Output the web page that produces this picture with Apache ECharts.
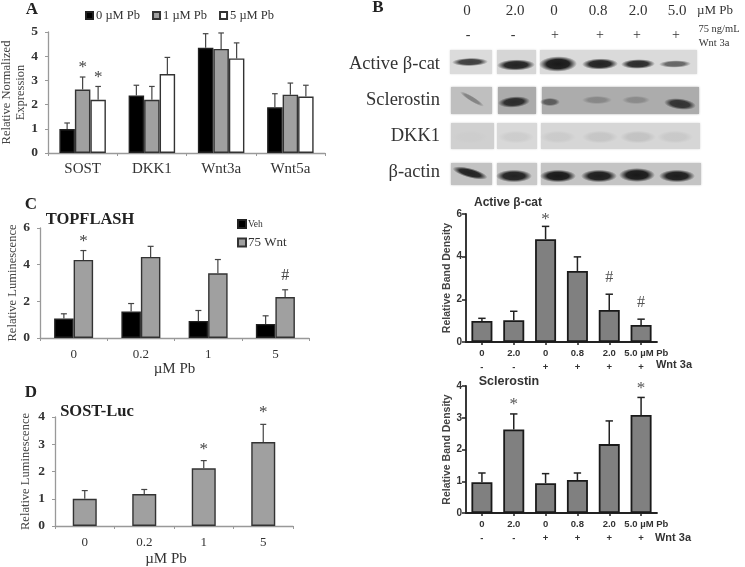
<!DOCTYPE html>
<html><head><meta charset="utf-8">
<style>html,body{margin:0;padding:0;background:#fff}#c{width:745px;height:567px;filter:blur(0.6px)}</style>
<script src="https://cdn.jsdelivr.net/npm/echarts@6/dist/echarts.min.js"></script>
</head><body><div id="c"></div>
<script>
// ---- Panel A
const aCats=['SOST','DKK1','Wnt3a','Wnt5a'];
const aPb0=[0.99,2.38,4.35,1.89], aPb0Top=[1.24,2.8,4.93,2.45], aPb0Mark=['','','',''];
const aPb1=[2.62,2.2,4.3,2.41], aPb1Top=[3.14,2.75,4.96,2.89], aPb1Mark=['*','','',''];
const aPb5=[2.2,3.26,3.91,2.33], aPb5Top=[2.75,3.95,4.55,2.8], aPb5Mark=['*','','',''];
// ---- Panel C
const cCats=['0','0.2','1','5'];
const cVeh=[1.06,1.44,0.93,0.77], cVehTop=[1.32,1.88,1.5,1.21], cVehMark=['','','',''];
const cWnt=[4.26,4.42,3.53,2.23], cWntTop=[4.77,5.0,4.28,2.63], cWntMark=['*','','','#'];
// ---- Panel D
const dCats=['0','0.2','1','5'];
const dVal=[1.0,1.17,2.12,3.08], dTop=[1.3,1.34,2.4,3.73], dMark=['','','*','*'];
// ---- Panel B charts
const bCats=['0','2.0','0','0.8','2.0','    5.0 µM Pb'];
const bWnt=['-','-','+','+','+','+'];
const catVal=[0.99,1.02,4.82,3.33,1.5,0.8], catTop=[1.11,1.44,5.42,3.99,2.24,1.07], catMark=['','','*','','#','#'];
const sclVal=[0.97,2.63,0.94,1.04,2.17,3.09], sclTop=[1.26,3.12,1.24,1.26,2.9,3.64], sclMark=['','*','','','','*'];
// ---- Western blot
const blotDose=['0','2.0','0','0.8','2.0','5.0'];
const blotWnt=['-','-','+','+','+','+'];
const blotRows=['Active β-cat','Sclerostin','DKK1','β-actin'];
const catBands=[.8,.95,1,.95,.9,.6];
const sclBands=[.3,.95,.6,.27,.25,.9];
const dkkBands=[.08,.08,.1,.15,.18,.12];
const actBands=[.95,.95,1,.97,1,.97];

const F_SERIF='"Liberation Serif"', F_SANS='"Liberation Sans"';
const grids=[
 {left:48,width:277,top:32,height:121},
 {left:40,width:269,top:228,height:110},
 {left:55,width:238,top:417,height:109},
 {left:466,width:191,top:214,height:128},
 {left:466,width:191,top:386,height:127}
].map(g=>Object.assign(g,{outerBoundsMode:'none'}));
function serifY(g,max,interval,name,gap){return {
  type:'value',gridIndex:g,min:0,max,interval,splitLine:{show:false},
  axisLine:{show:true,lineStyle:{color:'#999',width:1.3}},axisTick:{show:true,length:3,lineStyle:{color:'#999'}},
  axisLabel:{fontFamily:F_SERIF,fontWeight:'bold',fontSize:13.5,color:'#333',margin:10},
  name,nameLocation:'middle',nameRotate:90,nameGap:gap,nameTextStyle:{fontFamily:F_SERIF,fontSize:12.5,color:'#444',lineHeight:14}
};}
function serifX(g,data,size,margin,name,gap,pad){return {
  type:'category',gridIndex:g,data,
  axisLine:{show:true,lineStyle:{color:'#999',width:1.3}},axisTick:{show:true,length:3,lineStyle:{color:'#999'},alignWithLabel:false},
  axisLabel:{fontFamily:F_SERIF,fontSize:size,color:'#333',margin,interval:0},
  name,nameLocation:'middle',nameGap:gap,nameTextStyle:{fontFamily:F_SERIF,fontSize:15,color:'#333',padding:pad||0}
};}
function sansY(g,max,interval){return {
  type:'value',gridIndex:g,min:0,max,interval,splitLine:{show:false},
  axisLine:{show:true,lineStyle:{color:'#222',width:1.8}},axisTick:{show:true,length:4,lineStyle:{color:'#222',width:1.5}},
  axisLabel:{fontFamily:F_SANS,fontWeight:'bold',fontSize:10,color:'#333',margin:4},
  name:'Relative Band Density',nameLocation:'middle',nameRotate:90,nameGap:12,nameTextStyle:{fontFamily:F_SANS,fontWeight:'bold',fontSize:10.5,color:'#444'}
};}
function sansX(g){return {
  type:'category',gridIndex:g,data:bCats,
  axisLine:{show:true,lineStyle:{color:'#222',width:1.8}},axisTick:{show:true,length:3,alignWithLabel:true,lineStyle:{color:'#222',width:1.5}},
  axisLabel:{fontFamily:F_SANS,fontWeight:'bold',fontSize:9.5,color:'#333',margin:4,interval:0,lineHeight:14,
    formatter:(v,i)=>v+'\n'+bWnt[i]}
};}
function bar(name,g,data,color,w,bw,bc){return {
  type:'bar',name,xAxisIndex:g,yAxisIndex:g,data,barWidth:w,barGap:0,animation:false,
  itemStyle:{color,borderColor:bc||'#333',borderWidth:bw}
};}
function err(g,vals,tops,marks,offset,cap,lw,col,mOff,hOff,mCol){return {
  type:'custom',xAxisIndex:g,yAxisIndex:g,animation:false,z:5,clip:false,
  encode:{x:0,y:[1,2]},
  data:vals.map((v,i)=>[i,v,tops[i]]),
  renderItem(params,api){
    const p0=api.coord([api.value(0),api.value(1)]), p1=api.coord([api.value(0),api.value(2)]);
    const x=p0[0]+offset, st={stroke:col,lineWidth:lw};
    const ch=[{type:'line',shape:{x1:x,y1:p0[1],x2:x,y2:p1[1]},style:st},
              {type:'line',shape:{x1:x-cap,y1:p1[1],x2:x+cap,y2:p1[1]},style:st}];
    const m=marks[params.dataIndex];
    if(m) ch.push({type:'text',style:{text:m,x,y:p1[1]-(m==='#'?hOff:mOff),align:'center',verticalAlign:'middle',
      font:(m==='#'?16:17)+'px '+F_SERIF,fill:mCol}});
    return {type:'group',children:ch};
  }
};}
function txt(t,x,y,o){return {type:'text',x,y,silent:true,style:Object.assign({text:t,align:'center',verticalAlign:'middle',
  fontFamily:F_SERIF,fontSize:14,fill:'#222'},o||{})};}

// ---- blot drawing
const laneX=[470,516,558,600,638,675];
const graphic=[];
function seg(x0,x1,y0,y1,c){graphic.push({type:'rect',silent:true,shape:{x:x0,y:y0,width:x1-x0,height:y1-y0},
  style:{fill:c,shadowBlur:2,shadowColor:c}});}
function band(cx,cy,rx,ry,k,rot,shade,bg){
  const v=Math.round(bg-k*(bg-shade));
  const c=a=>'rgba('+v+','+v+','+v+','+a+')';
  const R=ry*1.45+0.5;
  graphic.push({type:'circle',silent:true,x:cx,y:cy,rotation:rot||0,scaleX:(rx+6)/R,scaleY:1,shape:{cx:0,cy:0,r:R},
    style:{fill:{type:'radial',x:.5,y:.5,r:.5,colorStops:[{offset:0,color:c(1)},{offset:.6,color:c(.95)},{offset:1,color:c(0)}]}}});
}
const rowsGeom=[
 {y0:50,y1:74,bg:['#dbdbdb','#d6d6d6','#dadada'],xs:[[450,492],[497,536],[540,697]]},
 {y0:87,y1:114,bg:['#bfbfbf','#ababab','#acacac'],xs:[[451,492],[498,536],[542,699]]},
 {y0:123,y1:149,bg:['#d0d0d0','#d8d8d8','#d6d6d6'],xs:[[451,494],[497,537],[541,700]]},
 {y0:163,y1:185,bg:['#c2c2c2','#c8c8c8','#c4c4c4'],xs:[[451,492],[497,537],[541,701]]}
];
rowsGeom.forEach(r=>r.xs.forEach((x,i)=>seg(x[0],x[1],r.y0,r.y1,r.bg[i])));
const catY=[62,65,64,64,64,64], catRx=[12,13,13,12,11,10], catRy=[2.5,3.5,5,3.5,3,2.2];
catBands.forEach((k,i)=>band(laneX[i],catY[i],catRx[i],catRy[i],k,0.02,25,215));
const sclY=[99,102,102,100,100,104], sclRx=[8,10,4,9,8,10], sclRy=[1.5,3.5,2.5,2.5,2.5,3.5], sclRot=[-0.55,0.08,0,0,0,-0.12];
sclBands.forEach((k,i)=>band(laneX[i]+[2,-2,-8,-3,-2,5][i],sclY[i],sclRx[i],sclRy[i],k,sclRot[i],35,172));
dkkBands.forEach((k,i)=>band(laneX[i],137,12,4,k,0,120,212));
const actY=[173,176,176,176,175,176], actRy=[3,4,4,4,4.5,4], actRot=[-0.26,0,0,0,0,0];
actBands.forEach((k,i)=>band(laneX[i]-[0,2,0,1,1,-2][i],actY[i],12,actRy[i],k,actRot[i],25,196));
// blot texts
blotDose.forEach((t,i)=>graphic.push(txt(t,[467,515,554,598,638,677][i],11,{fontSize:15,fill:'#333'})));
blotWnt.forEach((t,i)=>graphic.push(txt(t,[468,513,555,600,637,676][i],35,{fontSize:14,fill:'#333'})));
graphic.push(txt('µM Pb',715,11,{fontSize:13,fill:'#333'}));
graphic.push(txt('75 ng/mL',719,29,{fontSize:10.5,fill:'#333'}));
graphic.push(txt('Wnt 3a',714,43,{fontSize:10.5,fill:'#333'}));
blotRows.forEach((t,i)=>graphic.push(txt(t,440,[64,100,136,172][i],{align:'right',fontSize:18.5,fill:'#333'})));
// panel letters and titles
graphic.push(txt('A',32,10,{fontWeight:'bold',fontSize:17,fill:'#222'}));
graphic.push(txt('B',378,8,{fontWeight:'bold',fontSize:17,fill:'#222'}));
graphic.push(txt('C',31,205,{fontWeight:'bold',fontSize:17,fill:'#222'}));
graphic.push(txt('D',31,393,{fontWeight:'bold',fontSize:17,fill:'#222'}));
graphic.push(txt('TOPFLASH',90,220,{fontWeight:'bold',fontSize:16.5,fill:'#222'}));
graphic.push(txt('SOST-Luc',97,412,{fontWeight:'bold',fontSize:16.5,fill:'#222'}));
graphic.push(txt('Active β-cat',508,203,{fontFamily:F_SANS,fontWeight:'bold',fontSize:12,fill:'#333'}));
graphic.push(txt('Sclerostin',509,382,{fontFamily:F_SANS,fontWeight:'bold',fontSize:12.5,fill:'#333'}));
graphic.push(txt('Wnt 3a',674,365,{fontFamily:F_SANS,fontWeight:'bold',fontSize:11,fill:'#333'}));
graphic.push(txt('Wnt 3a',673,538,{fontFamily:F_SANS,fontWeight:'bold',fontSize:11,fill:'#333'}));

const aBW=15.5,cBW=19.5,dBW=24,bBW=21;
const series=[
 bar('0 µM Pb',0,aPb0,'#000',aBW,1.4,'#222'),
 bar('1 µM Pb',0,aPb1,'#a0a0a0',aBW,1.4,'#333'),
 bar('5 µM Pb',0,aPb5,'#fff',aBW,1.4,'#333'),
 err(0,aPb0,aPb0Top,aPb0Mark,-aBW,2.8,1.2,'#444',9,12,'#444'),
 err(0,aPb1,aPb1Top,aPb1Mark,0,2.8,1.2,'#444',9,12,'#444'),
 err(0,aPb5,aPb5Top,aPb5Mark,aBW,2.8,1.2,'#444',9,12,'#444'),
 bar('Veh',1,cVeh,'#000',cBW,1.4,'#222'),
 bar('75 Wnt',1,cWnt,'#a0a0a0',cBW,1.4,'#333'),
 err(1,cVeh,cVehTop,cVehMark,-cBW/2,3,1.2,'#444',9,14,'#444'),
 err(1,cWnt,cWntTop,cWntMark,cBW/2,3,1.2,'#444',9,14,'#444'),
 bar('Luc',2,dVal,'#a0a0a0',dBW,1.4,'#333'),
 err(2,dVal,dTop,dMark,0,3,1.2,'#444',11.5,14,'#444'),
 bar('Cat',3,catVal,'#808080',bBW,1.8,'#1a1a1a'),
 err(3,catVal,catTop,catMark,0,3.7,1.5,'#222',7,16.5,'#555'),
 bar('Scl',4,sclVal,'#808080',bBW,1.8,'#1a1a1a'),
 err(4,sclVal,sclTop,sclMark,0,3.7,1.5,'#222',9,16,'#555')
];
const option={
 animation:false,backgroundColor:'#fff',
 grid:grids,
 xAxis:[
  serifX(0,aCats,15,9,'',0),
  serifX(1,cCats,13,10,'µM Pb',24),
  serifX(2,dCats,13,10,'µM Pb',26,[0,16,0,0]),
  sansX(3),sansX(4)
 ],
 yAxis:[
  serifY(0,5,1,'Relative Normalized\nExpression',12.5),
  serifY(1,6,2,'Relative Luminescence',18),
  serifY(2,4,1,'Relative Luminescence',22),
  sansY(3,6,2),sansY(4,4,1)
 ],
 legend:[
  {data:['0 µM Pb','1 µM Pb','5 µM Pb'],left:85,top:9,padding:0,itemWidth:7,itemHeight:7,itemGap:12,icon:'rect',
   selectedMode:false,textStyle:{fontFamily:F_SERIF,fontSize:12.5,color:'#333',padding:[0,0,0,-2]}},
  {data:[{name:'Veh',textStyle:{fontSize:9.5}},{name:'75 Wnt',textStyle:{fontSize:13}}],left:237,top:219,padding:0,orient:'vertical',itemWidth:8,itemHeight:8,itemGap:7,icon:'rect',
   selectedMode:false,textStyle:{fontFamily:F_SERIF,color:'#333',padding:[0,0,0,-3]}}
 ],
 graphic:{elements:graphic},
 series
};
const chart=echarts.init(document.getElementById('c'),null,{renderer:'canvas',width:745,height:567});
chart.setOption(option);
</script></body></html>
